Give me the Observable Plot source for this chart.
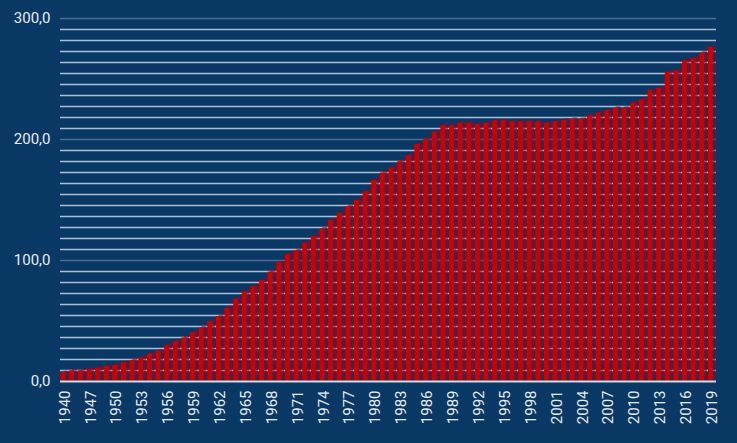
<!DOCTYPE html>
<html><head><meta charset="utf-8">
<script src="https://cdn.jsdelivr.net/npm/d3@7"></script>
<script src="https://cdn.jsdelivr.net/npm/@observablehq/plot@0.6"></script>
<style>
html,body{margin:0;padding:0;background:#0a3864;}
</style></head><body><div id="chart"></div>
<script>
const years = ["1940","1945","1946","1947","1948","1949","1950","1951","1952","1953","1954","1955","1956","1957","1958","1959",
"1960","1961","1962","1963","1964","1965","1966","1967","1968","1969","1970","1971","1972","1973","1974","1975","1976","1977","1978","1979",
"1980","1981","1982","1983","1984","1985","1986","1987","1988","1989","1990","1991","1992","1993","1994","1995","1996","1997","1998","1999",
"2000","2001","2002","2003","2004","2005","2006","2007","2008","2009","2010","2011","2012","2013","2014","2015","2016","2017","2018","2019"];
const values = [7.3,8.9,8.9,10,11.1,12.5,13.4,15.5,17.5,19.4,22.7,25,29.6,32.9,36,40.3,
44.2,49.4,53.6,60.5,67.9,74,78.4,83.3,90.5,98.2,105.1,108.1,114.5,119.7,126,133.2,139,144.5,149.8,156.8,
166.2,172.3,176.4,181.7,186.6,196,200.1,206.1,211.4,211.4,213.5,213.5,212.5,213.4,215.5,215.5,214.7,214.7,214.7,214.7,
213.3,214.7,215.8,216.6,216.6,219.6,221.8,223.8,225.7,225.7,230,232.8,240.3,242.2,255.6,256.8,265,266.9,271.3,276.2];
const yTicks = [0,100,200,300];
const yTickLabels = ["0,0","100,0","200,0","300,0"];
const xTickYears = years.filter((d,i)=>i%3===0);
const data = years.map((y,i)=>({year:y, value: values[i]}));
const minorGrid = d3.range(0,300,100).flatMap(k => d3.range(1,11).map(i => k + i*100/11));

const chart = Plot.plot({
  width:737, height:443, marginLeft:60, marginRight:21, marginTop:18, marginBottom:62,
  style:{background:"#0a3864", color:"#e6ecf2", fontFamily:"Roboto, sans-serif", fontSize:"15px"},
  x:{domain:years, padding:0, label:null, ticks:xTickYears, tickRotate:-90, tickSize:0, tickPadding:9},
  y:{domain:[0,300], ticks:yTicks, tickFormat:d=>yTickLabels[yTicks.indexOf(d)], label:null, tickSize:0, tickPadding:10},
  marks:[
    Plot.ruleY(minorGrid,{stroke:"#a9c0d8", strokeWidth:1.5}),
    Plot.ruleY([100,200,300],{stroke:"#4a6d92", strokeWidth:1.5}),
    Plot.barY(data,{x:"year", y:"value", fill:"#a0001a", fillOpacity:0.6, insetLeft:0.6, insetRight:3.2, dx:2.7, dy:-1.5}),
    Plot.barY(data,{x:"year", y:"value", fill:"#cc0000", insetLeft:0.6, insetRight:3.2}),
    Plot.ruleY([0],{stroke:"#d0dae4", strokeWidth:2})
  ]
});
document.getElementById("chart").appendChild(chart);
</script></body></html>
